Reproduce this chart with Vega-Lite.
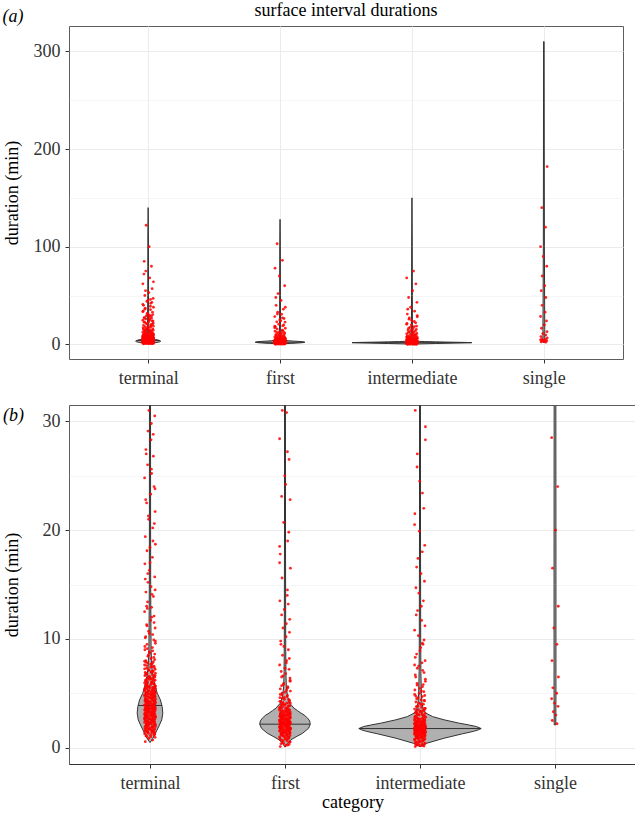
{
"$schema":"https://vega.github.io/schema/vega-lite/v6.json",
"padding":{"left":2,"top":1,"right":0,"bottom":0},
"background":"white",
"config":{
 "font":"Liberation Serif",
 "view":{"stroke":"#5e5e5e","strokeWidth":1},
 "axis":{"labelFont":"Liberation Serif","titleFont":"Liberation Serif","labelFontSize":18,"titleFontSize":18,"titleFontWeight":"normal","labelColor":"#333333","titleColor":"#000000","tickColor":"#333333","tickSize":4,"gridColor":"#ebebeb","domain":false},
 "title":{"font":"Liberation Serif","fontWeight":"normal","fontSize":18,"color":"#000000"}
},
"datasets":{
 "pts":[
  {"c":"terminal","d":[0.55,0.7,0.85,0.95,1.05,1.15,1.2,1.3,1.38,1.45,
   1.5,1.55,1.6,1.65,1.72,1.75,1.8,1.85,1.9,1.95,
   1.98,2.05,2.1,2.12,2.15,2.2,2.28,2.32,2.35,2.4,
   2.45,2.5,2.52,2.55,2.6,2.65,2.7,2.72,2.75,2.8,
   2.85,2.9,2.92,2.95,3.0,3.05,3.1,3.12,3.15,3.2,
   3.25,3.3,3.32,3.35,3.4,3.45,3.5,3.52,3.55,3.6,
   3.65,3.7,3.72,3.75,3.8,3.85,3.9,3.92,3.95,4.0,
   4.05,4.1,4.12,4.15,4.2,4.25,4.3,4.32,4.38,4.45,
   4.5,4.52,4.58,4.65,4.7,4.72,4.8,4.85,4.9,4.95,
   5.0,5.05,5.1,5.15,5.2,5.25,5.3,5.35,5.4,5.45,
   5.5,5.55,5.6,5.65,5.7,5.8,5.88,5.95,6.02,6.1,
   6.18,6.25,6.32,6.4,6.48,6.55,6.62,6.7,6.78,6.85,
   6.92,7.0,7.1,7.2,7.3,7.4,7.5,7.6,7.7,7.8,
   7.9,8.0,8.2,8.4,8.6,8.8,9.0,9.2,9.5,9.8,
   10.1,10.4,10.7,11.0,11.3,11.7,12.1,12.5,12.9,13.4,
   13.9,14.3,14.8,15.2,15.7,16.3,16.9,17.5,18.1,18.7,
   19.4,20.2,21.0,21.7,22.5,23.3,24.0,24.8,25.2,26.0,
   26.8,27.4,28.3,29.1,30.5,32,34,35.5,37,38,
   40,42,44,47,50,53,57,62,68,75,
   80,85,100,122,1.4,2.3,3.0,3.6,4.4,5.0],
   "j":[-0.035,0.02,-0.01,0.038,-0.025,0.005,0.03,-0.04,0.012,-0.018,
   0.025,-0.03,0.008,-0.015,0.035,-0.005,-0.038,0.018,-0.022,0.04,
   -0.035,0.02,-0.01,0.038,-0.025,0.005,0.03,-0.04,0.012,-0.018,
   0.025,-0.03,0.008,-0.015,0.035,-0.005,-0.038,0.018,-0.022,0.04,
   -0.035,0.02,-0.01,0.038,-0.025,0.005,0.03,-0.04,0.012,-0.018,
   0.025,-0.03,0.008,-0.015,0.035,-0.005,-0.038,0.018,-0.022,0.04,
   -0.035,0.02,-0.01,0.038,-0.025,0.005,0.03,-0.04,0.012,-0.018,
   0.025,-0.03,0.008,-0.015,0.035,-0.005,-0.038,0.018,-0.022,0.04,
   -0.035,0.02,-0.01,0.038,-0.025,0.005,0.03,-0.04,0.012,-0.018,
   0.025,-0.03,0.008,-0.015,0.035,-0.005,-0.038,0.018,-0.022,0.04,
   -0.035,0.02,-0.01,0.038,-0.025,0.005,0.03,-0.04,0.012,-0.018,
   0.025,-0.03,0.008,-0.015,0.035,-0.005,-0.038,0.018,-0.022,0.04,
   -0.035,0.02,-0.01,0.038,-0.025,0.005,0.03,-0.04,0.012,-0.018,
   0.025,-0.03,0.008,-0.015,0.035,-0.005,-0.038,0.018,-0.022,0.04,
   -0.035,0.02,-0.01,0.038,-0.025,0.005,0.03,-0.04,0.012,-0.018,
   0.025,-0.03,0.008,-0.015,0.035,-0.005,-0.038,0.018,-0.022,0.04,
   -0.035,0.02,-0.01,0.038,-0.025,0.005,0.03,-0.04,0.012,-0.018,
   0.025,-0.03,0.008,-0.015,0.035,-0.005,-0.038,0.018,-0.022,0.04,
   -0.035,0.02,-0.01,0.038,-0.025,0.005,0.03,-0.04,0.012,-0.018,
   0.025,-0.03,0.008,-0.015,0.035,-0.005,-0.038,0.018,-0.022,0.04]},
  {"c":"terminal","d":[1.25,1.42,1.58,1.68,1.78,1.88,2.0,2.08,2.18,2.25,
   2.3,2.38,2.42,2.48,2.58,2.62,2.68,2.78,2.82,2.88,
   2.98,3.02,3.08,3.18,3.22,3.28,3.38,3.42,3.48,3.58,
   3.62,3.68,3.78,3.82,3.88,3.98,4.02,4.08,4.18,4.22,
   4.28,4.35,4.42,4.48,4.55,4.62,4.68,4.75,4.82,4.88,
   4.92,4.98,5.08,5.18,5.28,5.38,5.48,5.58,5.68,5.75,
   5.85,5.92,6.05,6.15,6.28,6.38,6.52,6.65,6.82,6.98,
   7.15,7.35,7.55,7.75,7.95,8.3,8.7,9.1,9.6,10.2,
   11.5,12.8,14.1,15.5,17,19,21.3,23.8,27,29.8,
   31,33,36,39,41,43,45,55,64,72],
   "j":[0.03,-0.02,0.015,-0.035,0.0,0.022,-0.012,0.037,-0.028,0.01,
   -0.008,0.033,-0.025,0.017,-0.04,0.028,-0.002,-0.02,0.04,-0.032,
   0.03,-0.02,0.015,-0.035,0.0,0.022,-0.012,0.037,-0.028,0.01,
   -0.008,0.033,-0.025,0.017,-0.04,0.028,-0.002,-0.02,0.04,-0.032,
   0.03,-0.02,0.015,-0.035,0.0,0.022,-0.012,0.037,-0.028,0.01,
   -0.008,0.033,-0.025,0.017,-0.04,0.028,-0.002,-0.02,0.04,-0.032,
   0.03,-0.02,0.015,-0.035,0.0,0.022,-0.012,0.037,-0.028,0.01,
   -0.008,0.033,-0.025,0.017,-0.04,0.028,-0.002,-0.02,0.04,-0.032,
   0.03,-0.02,0.015,-0.035,0.0,0.022,-0.012,0.037,-0.028,0.01,
   -0.008,0.033,-0.025,0.017,-0.04,0.028,-0.002,-0.02,0.04,-0.032]},
  {"c":"terminal","d":[1.0,1.1,1.22,1.33,1.47,1.52,1.62,1.7,1.82,1.92,
   2.02,2.14,2.22,2.26,2.36,2.44,2.54,2.64,2.74,2.84,
   2.94,3.04,3.14,3.24,3.34,3.44,3.54,3.64,3.74,3.84,
   3.94,4.04,4.14,4.24,4.34,4.44,4.54,4.64,4.74,4.84,
   4.94,5.04,5.14,5.24,5.34,5.44,5.54,5.64,5.74,5.9,
   6.0,6.2,6.35,6.45,6.6,6.75,6.9,7.05,7.25,7.45,
   7.65,7.85,8.1,8.5,8.9,9.3,9.9,10.5,11.2,12.0,
   13.0,14.5,16.0,18.4,20.6,22.8,25.6,28.8,33.5,46],
   "j":[0.005,-0.03,0.035,-0.012,0.02,-0.038,0.028,-0.005,-0.022,0.012,
   -0.025,0.038,-0.016,0.0,0.032,-0.032,0.01,0.024,-0.04,0.018,
   0.005,-0.03,0.035,-0.012,0.02,-0.038,0.028,-0.005,-0.022,0.012,
   -0.025,0.038,-0.016,0.0,0.032,-0.032,0.01,0.024,-0.04,0.018,
   0.005,-0.03,0.035,-0.012,0.02,-0.038,0.028,-0.005,-0.022,0.012,
   -0.025,0.038,-0.016,0.0,0.032,-0.032,0.01,0.024,-0.04,0.018,
   0.005,-0.03,0.035,-0.012,0.02,-0.038,0.028,-0.005,-0.022,0.012,
   -0.025,0.038,-0.016,0.0,0.032,-0.032,0.01,0.024,-0.04,0.018]},
  {"c":"first","d":[0.1,0.25,0.4,0.55,0.7,0.8,0.9,1.0,1.08,1.15,
   1.22,1.3,1.35,1.4,1.45,1.5,1.55,1.6,1.65,1.7,
   1.72,1.75,1.8,1.82,1.85,1.9,1.92,1.95,2.0,2.02,
   2.05,2.08,2.1,2.12,2.15,2.18,2.2,2.22,2.25,2.28,
   2.3,2.33,2.35,2.38,2.4,2.45,2.48,2.5,2.55,2.6,
   2.62,2.65,2.7,2.75,2.8,2.85,2.9,2.95,3.0,3.05,
   3.1,3.15,3.2,3.28,3.35,3.42,3.5,3.58,3.65,3.75,
   3.85,3.95,4.05,4.15,4.3,4.45,4.6,4.8,5.0,5.2,
   5.4,5.6,5.9,6.2,6.5,6.8,7.2,7.6,8.0,8.5,
   9.0,9.5,10.2,11.0,11.8,12.7,13.5,14.5,15.6,16.5,
   17.8,19.0,20.7,22.8,23.1,24.2,26.5,28.4,30.8,33,
   36,40,45,52,60,70,78,86,103,1.78],
   "j":[-0.035,0.02,-0.01,0.038,-0.025,0.005,0.03,-0.04,0.012,-0.018,
   0.025,-0.03,0.008,-0.015,0.035,-0.005,-0.038,0.018,-0.022,0.04,
   -0.035,0.02,-0.01,0.038,-0.025,0.005,0.03,-0.04,0.012,-0.018,
   0.025,-0.03,0.008,-0.015,0.035,-0.005,-0.038,0.018,-0.022,0.04,
   -0.035,0.02,-0.01,0.038,-0.025,0.005,0.03,-0.04,0.012,-0.018,
   0.025,-0.03,0.008,-0.015,0.035,-0.005,-0.038,0.018,-0.022,0.04,
   -0.035,0.02,-0.01,0.038,-0.025,0.005,0.03,-0.04,0.012,-0.018,
   0.025,-0.03,0.008,-0.015,0.035,-0.005,-0.038,0.018,-0.022,0.04,
   -0.035,0.02,-0.01,0.038,-0.025,0.005,0.03,-0.04,0.012,-0.018,
   0.025,-0.03,0.008,-0.015,0.035,-0.005,-0.038,0.018,-0.022,0.04,
   -0.035,0.02,-0.01,0.038,-0.025,0.005,0.03,-0.04,0.012,-0.018,
   0.025,-0.03,0.008,-0.015,0.035,-0.005,-0.038,0.018,-0.022,0.04]},
  {"c":"first","d":[0.3,0.48,0.62,0.75,0.85,0.95,1.04,1.12,1.19,1.26,
   1.33,1.38,1.43,1.48,1.53,1.58,1.63,1.68,1.74,1.77,
   1.84,1.87,1.94,1.97,2.04,2.07,2.14,2.17,2.24,2.27,
   2.32,2.37,2.42,2.47,2.52,2.58,2.64,2.68,2.73,2.78,
   2.83,2.88,2.93,2.98,3.03,3.08,3.13,3.18,3.25,3.32,
   3.38,3.46,3.54,3.62,3.7,3.8,3.9,4.0,4.1,4.22,
   4.38,4.55,4.7,4.9,5.1,5.5,5.8,6.4,7.0,7.8,
   9.3,10.6,12.2,14.0,17.0,19.8,25,31,38,48],
   "j":[0.03,-0.02,0.015,-0.035,0.0,0.022,-0.012,0.037,-0.028,0.01,
   -0.008,0.033,-0.025,0.017,-0.04,0.028,-0.002,-0.02,0.04,-0.032,
   0.03,-0.02,0.015,-0.035,0.0,0.022,-0.012,0.037,-0.028,0.01,
   -0.008,0.033,-0.025,0.017,-0.04,0.028,-0.002,-0.02,0.04,-0.032,
   0.03,-0.02,0.015,-0.035,0.0,0.022,-0.012,0.037,-0.028,0.01,
   -0.008,0.033,-0.025,0.017,-0.04,0.028,-0.002,-0.02,0.04,-0.032,
   0.03,-0.02,0.015,-0.035,0.0,0.022,-0.012,0.037,-0.028,0.01,
   -0.008,0.033,-0.025,0.017,-0.04,0.028,-0.002,-0.02,0.04,-0.032]},
  {"c":"first","d":[0.2,0.35,0.5,0.65,0.78,0.88,0.98,1.06,1.14,1.21,
   1.28,1.36,1.42,1.5,1.57,1.64,1.71,1.79,1.86,1.93,
   2.01,2.09,2.16,2.23,2.31,2.39,2.46,2.54,2.61,2.69,
   2.76,2.84,2.91,2.99,3.07,3.16,3.24,3.33,3.43,3.53,
   3.63,3.74,3.86,3.98,4.12,4.26,4.42,4.62,4.85,5.3,
   5.7,6.1,6.6,7.3,8.2,9.8,11.4,13.2,18.5,27.2],
   "j":[0.005,-0.03,0.035,-0.012,0.02,-0.038,0.028,-0.005,-0.022,0.012,
   -0.025,0.038,-0.016,0.0,0.032,-0.032,0.01,0.024,-0.04,0.018,
   0.005,-0.03,0.035,-0.012,0.02,-0.038,0.028,-0.005,-0.022,0.012,
   -0.025,0.038,-0.016,0.0,0.032,-0.032,0.01,0.024,-0.04,0.018,
   0.005,-0.03,0.035,-0.012,0.02,-0.038,0.028,-0.005,-0.022,0.012,
   -0.025,0.038,-0.016,0.0,0.032,-0.032,0.01,0.024,-0.04,0.018]},
  {"c":"intermediate","d":[0.1,0.2,0.3,0.4,0.5,0.6,0.7,0.78,0.85,0.92,
   0.98,1.05,1.1,1.15,1.2,1.25,1.3,1.34,1.38,1.42,
   1.45,1.48,1.52,1.55,1.58,1.6,1.62,1.65,1.68,1.7,
   1.72,1.74,1.76,1.78,1.8,1.82,1.84,1.86,1.88,1.9,
   1.93,1.96,2.0,2.03,2.06,2.1,2.14,2.18,2.22,2.26,
   2.3,2.35,2.4,2.45,2.5,2.56,2.62,2.68,2.75,2.82,
   2.9,2.98,3.06,3.15,3.25,3.35,3.45,3.55,3.7,3.85,
   4.0,4.2,4.4,4.6,4.8,5.0,5.3,5.6,5.9,6.3,
   6.7,7.1,7.5,8.0,8.6,9.2,9.9,10.8,11.7,12.6,
   13.5,14.7,16.0,17.4,18.6,19.9,21.5,23.4,25.8,28.3,
   31,34,38,43,48,55,62,68,75,1.5],
   "j":[-0.035,0.02,-0.01,0.038,-0.025,0.005,0.03,-0.04,0.012,-0.018,
   0.025,-0.03,0.008,-0.015,0.035,-0.005,-0.038,0.018,-0.022,0.04,
   -0.035,0.02,-0.01,0.038,-0.025,0.005,0.03,-0.04,0.012,-0.018,
   0.025,-0.03,0.008,-0.015,0.035,-0.005,-0.038,0.018,-0.022,0.04,
   -0.035,0.02,-0.01,0.038,-0.025,0.005,0.03,-0.04,0.012,-0.018,
   0.025,-0.03,0.008,-0.015,0.035,-0.005,-0.038,0.018,-0.022,0.04,
   -0.035,0.02,-0.01,0.038,-0.025,0.005,0.03,-0.04,0.012,-0.018,
   0.025,-0.03,0.008,-0.015,0.035,-0.005,-0.038,0.018,-0.022,0.04,
   -0.035,0.02,-0.01,0.038,-0.025,0.005,0.03,-0.04,0.012,-0.018,
   0.025,-0.03,0.008,-0.015,0.035,-0.005,-0.038,0.018,-0.022,0.04,
   -0.035,0.02,-0.01,0.038,-0.025,0.005,0.03,-0.04,0.012,-0.018]},
  {"c":"intermediate","d":[0.15,0.25,0.35,0.45,0.55,0.65,0.74,0.82,0.88,0.95,
   1.02,1.08,1.12,1.18,1.22,1.28,1.32,1.36,1.4,1.44,
   1.47,1.5,1.54,1.57,1.59,1.61,1.64,1.67,1.69,1.71,
   1.73,1.75,1.77,1.79,1.81,1.83,1.85,1.87,1.89,1.91,
   1.95,1.98,2.02,2.05,2.08,2.12,2.16,2.2,2.24,2.28,
   2.33,2.38,2.43,2.48,2.53,2.59,2.65,2.72,2.79,2.86,
   2.94,3.02,3.1,3.2,3.3,3.4,3.5,3.62,3.78,3.92,
   4.1,4.3,4.5,4.7,4.9,5.15,5.45,5.75,6.1,6.5,
   6.9,7.3,7.8,8.3,8.9,9.5,10.3,11.2,12.2,13.0,
   14.2,15.3,16.6,18.0,20.5,22,24.5,27,29.5,36],
   "j":[0.03,-0.02,0.015,-0.035,0.0,0.022,-0.012,0.037,-0.028,0.01,
   -0.008,0.033,-0.025,0.017,-0.04,0.028,-0.002,-0.02,0.04,-0.032,
   0.03,-0.02,0.015,-0.035,0.0,0.022,-0.012,0.037,-0.028,0.01,
   -0.008,0.033,-0.025,0.017,-0.04,0.028,-0.002,-0.02,0.04,-0.032,
   0.03,-0.02,0.015,-0.035,0.0,0.022,-0.012,0.037,-0.028,0.01,
   -0.008,0.033,-0.025,0.017,-0.04,0.028,-0.002,-0.02,0.04,-0.032,
   0.03,-0.02,0.015,-0.035,0.0,0.022,-0.012,0.037,-0.028,0.01,
   -0.008,0.033,-0.025,0.017,-0.04,0.028,-0.002,-0.02,0.04,-0.032,
   0.03,-0.02,0.015,-0.035,0.0,0.022,-0.012,0.037,-0.028,0.01,
   -0.008,0.033,-0.025,0.017,-0.04,0.028,-0.002,-0.02,0.04,-0.032]},
  {"c":"intermediate","d":[0.18,0.28,0.38,0.48,0.58,0.68,0.76,0.84,0.9,0.97,
   1.04,1.1,1.16,1.21,1.26,1.31,1.35,1.39,1.43,1.46,
   1.49,1.53,1.56,1.6,1.63,1.66,1.7,1.73,1.77,1.8,
   1.84,1.88,1.92,1.97,2.01,2.07,2.13,2.19,2.25,2.32,
   2.39,2.46,2.54,2.62,2.7,2.8,2.9,3.0,3.12,3.26,
   3.42,3.6,3.8,4.05,4.35,4.75,5.2,5.8,7.6,9.6],
   "j":[0.005,-0.03,0.035,-0.012,0.02,-0.038,0.028,-0.005,-0.022,0.012,
   -0.025,0.038,-0.016,0.0,0.032,-0.032,0.01,0.024,-0.04,0.018,
   0.005,-0.03,0.035,-0.012,0.02,-0.038,0.028,-0.005,-0.022,0.012,
   -0.025,0.038,-0.016,0.0,0.032,-0.032,0.01,0.024,-0.04,0.018,
   0.005,-0.03,0.035,-0.012,0.02,-0.038,0.028,-0.005,-0.022,0.012,
   -0.025,0.038,-0.016,0.0,0.032,-0.032,0.01,0.024,-0.04,0.018]},
  {"c":"single","d":[2.2,2.5,3.0,3.3,3.8,4.1,4.5,5.0,5.5,6.5,
   8.0,9.5,11,13,16.5,20,24,28.5,33,40,
   48,55,60,70,80,90,100,120,140,182],
   "j":[0.015,-0.02,0.006,-0.012,0.022,-0.004,-0.025,0.012,-0.016,0.025,
   -0.022,0.014,-0.008,0.024,-0.018,0.004,0.02,-0.025,0.009,-0.013,
   0.015,-0.02,0.006,-0.012,0.022,-0.004,-0.025,0.012,-0.016,0.025]}
 ],
 "vio":[
  {"c":"terminal","d":[0.47,0.8,1.35,2.0,2.56,3.17,3.78,4.4,5.0,5.5,5.9,6.5,7.2,8.0,9,11,15,20,30,50,80,110,140],
   "w":[0,0.019,0.041,0.067,0.087,0.095,0.09,0.077,0.054,0.042,0.034,0.024,0.016,0.011,0.008,0.007,0.005,0.0045,0.004,0.003,0.0026,0.0022,0]},
  {"c":"first","d":[0.05,0.4,0.72,1.0,1.33,1.79,2.16,2.45,2.71,3.0,3.17,3.4,3.63,4.1,4.7,5.6,7,10,20,50,100,128],
   "w":[0,0.019,0.043,0.082,0.131,0.175,0.187,0.183,0.168,0.142,0.119,0.093,0.067,0.034,0.019,0.0097,0.0067,0.0052,0.0037,0.003,0.0022,0]},
  {"c":"intermediate","d":[0.1,0.41,0.87,1.27,1.5,1.64,1.76,1.94,2.1,2.25,2.56,2.86,3.17,3.48,4.1,5,7,10,20,50,100,150],
   "w":[0,0.05,0.179,0.313,0.396,0.433,0.453,0.418,0.358,0.291,0.179,0.093,0.045,0.026,0.015,0.0097,0.0067,0.0052,0.0037,0.003,0.0022,0]},
  {"c":"single","d":[2.1,5,15,40,100,200,310],"w":[0.006,0.007,0.007,0.006,0.004,0.003,0.002]}
 ],
 "med":[
  {"c":"terminal","m":3.88,"w":0.089},
  {"c":"first","m":2.16,"w":0.187},
  {"c":"intermediate","m":1.76,"w":0.453},
  {"c":"single","m":20,"w":0.007}
 ]
},
"title":{"text":"(a)","anchor":"start","frame":"bounds","fontStyle":"italic","fontSize":18,"dy":28},
"spacing":16,
"vconcat":[
 {
  "width":554,"height":333,
  "title":{"text":"surface interval durations","anchor":"middle","frame":"group","offset":6},
  "layer":[
   {"data":{"name":"vio"},
    "transform":[{"flatten":["d","w"]},{"calculate":"indexof(['terminal','first','intermediate','single'], datum.c) + 1","as":"i"},{"calculate":"datum.i - datum.w","as":"lo"},{"calculate":"datum.i + datum.w","as":"hi"}],
    "mark":{"type":"area","orient":"horizontal","fill":"#b0b0b0","stroke":"#333333","strokeWidth":1,"clip":true},
    "encoding":{
     "y":{"field":"d","type":"quantitative","title":"duration (min)","scale":{"domain":[-15,326],"nice":false,"zero":false},
      "axis":{"values":[0,50,100,150,200,250,300],"labelFont":"Liberation Serif","titleFont":"Liberation Serif","labelExpr":"datum.value % 100 === 0 ? datum.label : ''","tickOpacity":{"condition":{"test":"datum.value % 100 === 0","value":1},"value":0},"gridWidth":{"condition":{"test":"datum.value % 100 === 0","value":1},"value":0.5},"labelPadding":5,"titlePadding":12}},
     "x":{"field":"lo","type":"quantitative","title":null,"scale":{"domain":[0.4,4.6],"nice":false,"zero":false},
      "axis":{"values":[1,2,3,4],"labelFont":"Liberation Serif","labelExpr":"['','terminal','first','intermediate','single'][datum.value]","labelPadding":6}},
     "x2":{"field":"hi"},
     "detail":{"field":"c"}
    }},
   {"data":{"name":"med"},
    "transform":[{"calculate":"indexof(['terminal','first','intermediate','single'], datum.c) + 1","as":"i"},{"calculate":"datum.i - datum.w","as":"lo"},{"calculate":"datum.i + datum.w","as":"hi"}],
    "mark":{"type":"rule","stroke":"#333333","strokeWidth":1,"clip":true},
    "encoding":{"y":{"field":"m","type":"quantitative","title":"duration (min)"},"x":{"field":"lo","type":"quantitative","title":null},"x2":{"field":"hi"}}},
   {"data":{"name":"pts"},
    "transform":[{"flatten":["d","j"]},{"calculate":"indexof(['terminal','first','intermediate','single'], datum.c) + 1 + datum.j","as":"xp"}],
    "mark":{"type":"circle","color":"#ff0000","opacity":0.85,"size":8,"clip":true},
    "encoding":{"y":{"field":"d","type":"quantitative","title":"duration (min)"},"x":{"field":"xp","type":"quantitative","title":null}}}
  ]
 },
 {
  "width":567,"height":359,
  "title":{"text":"(b)","anchor":"start","frame":"bounds","fontStyle":"italic","offset":0,"dy":20},
  "layer":[
   {"data":{"name":"vio"},
    "transform":[{"flatten":["d","w"]},{"calculate":"indexof(['terminal','first','intermediate','single'], datum.c) + 1","as":"i"},{"calculate":"datum.i - datum.w","as":"lo"},{"calculate":"datum.i + datum.w","as":"hi"}],
    "mark":{"type":"area","orient":"horizontal","fill":"#b0b0b0","stroke":"#333333","strokeWidth":1,"clip":true},
    "encoding":{
     "y":{"field":"d","type":"quantitative","title":"duration (min)","scale":{"domain":[-1.5,31.5],"nice":false,"zero":false},
      "axis":{"values":[0,5,10,15,20,25,30],"labelFont":"Liberation Serif","titleFont":"Liberation Serif","labelExpr":"datum.value % 10 === 0 ? datum.label : ''","tickOpacity":{"condition":{"test":"datum.value % 10 === 0","value":1},"value":0},"gridWidth":{"condition":{"test":"datum.value % 10 === 0","value":1},"value":0.5},"labelPadding":5,"titlePadding":21}},
     "x":{"field":"lo","type":"quantitative","title":"category","scale":{"domain":[0.4,4.6],"nice":false,"zero":false},
      "axis":{"values":[1,2,3,4],"labelFont":"Liberation Serif","titleFont":"Liberation Serif","labelExpr":"['','terminal','first','intermediate','single'][datum.value]","labelPadding":6,"domain":true,"domainColor":"#333333","domainWidth":1,"titlePadding":1}},
     "x2":{"field":"hi"},
     "detail":{"field":"c"}
    }},
   {"data":{"name":"med"},
    "transform":[{"calculate":"indexof(['terminal','first','intermediate','single'], datum.c) + 1","as":"i"},{"calculate":"datum.i - datum.w","as":"lo"},{"calculate":"datum.i + datum.w","as":"hi"}],
    "mark":{"type":"rule","stroke":"#333333","strokeWidth":1,"clip":true},
    "encoding":{"y":{"field":"m","type":"quantitative","title":"duration (min)"},"x":{"field":"lo","type":"quantitative","title":"category"},"x2":{"field":"hi"}}},
   {"data":{"name":"pts"},
    "transform":[{"flatten":["d","j"]},{"calculate":"indexof(['terminal','first','intermediate','single'], datum.c) + 1 + datum.j","as":"xp"}],
    "mark":{"type":"circle","color":"#ff0000","opacity":0.85,"size":8,"clip":true},
    "encoding":{"y":{"field":"d","type":"quantitative","title":"duration (min)"},"x":{"field":"xp","type":"quantitative","title":"category"}}}
  ]
 }
]
}
